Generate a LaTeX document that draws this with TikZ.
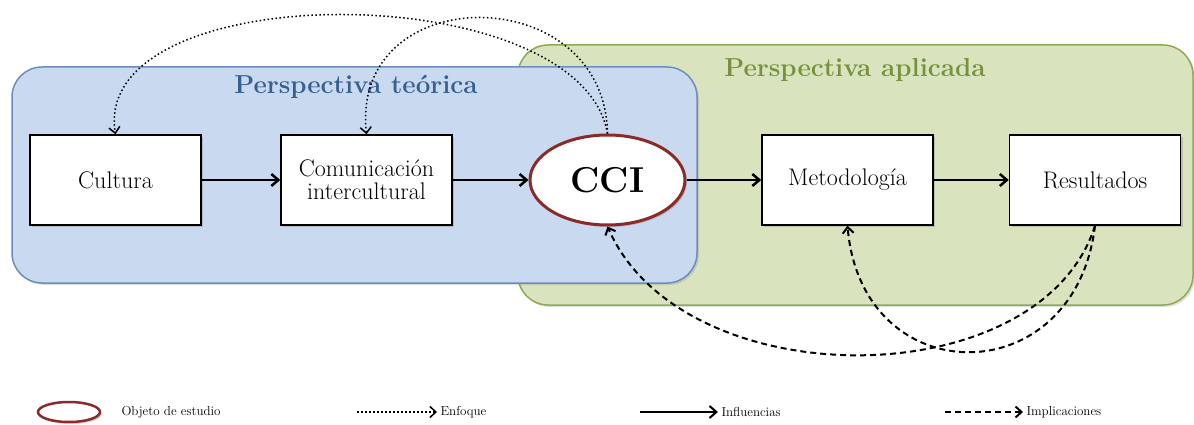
\documentclass[tikz,border=0pt]{standalone}
\usepackage{tikz}
\usetikzlibrary{shapes,arrows.meta,positioning,calc,shadows}

\definecolor{teofill}{RGB}{201,218,240}
\definecolor{teodraw}{RGB}{108,142,191}
\definecolor{teotext}{RGB}{55,96,146}
\definecolor{aplfill}{RGB}{217,228,190}
\definecolor{apldraw}{RGB}{140,172,82}
\definecolor{apltext}{RGB}{118,146,60}
\definecolor{objred}{RGB}{140,42,42}

\begin{document}
\begin{tikzpicture}[x=1pt, y=-1pt,
    box/.style={draw, line width=1.5pt, fill=white, minimum width=171pt, minimum height=90pt,
        inner sep=0pt, align=center, font=\fontsize{24}{25}\selectfont,
        drop shadow={shadow xshift=2pt, shadow yshift=-2pt, opacity=.35}},
    objeto/.style={ellipse, draw=objred, line width=3pt, fill=white,
        drop shadow={shadow xshift=2pt, shadow yshift=-2pt, opacity=.35}},
    influencia/.style={-{Straight Barb[length=7pt,width=12pt]}, line width=2.5pt},
    enfoque/.style={-{Straight Barb[length=6pt,width=11pt]}, line width=1.5pt, dash pattern=on 1.5pt off 2.5pt},
    implica/.style={-{Straight Barb[length=6pt,width=11pt]}, line width=2pt, dash pattern=on 6pt off 4pt},
    leyenda/.style={anchor=west, font=\fontsize{13}{15}\selectfont}]
    \useasboundingbox (0,0) rectangle (1194,425);

    % Perspective regions
    \draw[line width=1.5pt, draw=apldraw, fill=aplfill, rounded corners=30pt,
        drop shadow={shadow xshift=2pt, shadow yshift=-2pt, opacity=.25}] (518,45) rectangle (1193,305);
    \draw[line width=1.5pt, draw=teodraw, fill=teofill, rounded corners=30pt,
        drop shadow={shadow xshift=2pt, shadow yshift=-2pt, opacity=.25}] (12,67) rectangle (697,283);
    \node[text=teotext, font=\bfseries\fontsize{26}{28}\selectfont] (teorica) at (356,87) {Perspectiva teórica};
    \node[text=apltext, font=\bfseries\fontsize{26}{28}\selectfont] (aplicada) at (855,70) {Perspectiva aplicada};

    % Main chain
    \node[box] (cultura) at (115.5,180) {Cultura};
    \node[box] (comunicacion) at (366.5,180) {Comunicación\\[-2pt]intercultural};
    \node[objeto, minimum width=155pt, minimum height=90pt, font=\bfseries\fontsize{36}{38}\selectfont] (cci) at (607.5,180) {CCI};
    \node[box] (metodologia) at (847.5,180) {Metodología};
    \node[box] (resultados) at (1095,180) {Resultados};

    % Influences
    \draw[influencia] (cultura) -- (comunicacion);
    \draw[influencia] (comunicacion) -- (cci);
    \draw[influencia] (cci) -- (metodologia);
    \draw[influencia] (metodologia) -- (resultados);

    % Focus
    \draw[enfoque] (cci.north) .. controls (580,-25) and (90,-25) .. (cultura.north);
    \draw[enfoque] (cci.north) .. controls (605,-21) and (350,-21) .. (comunicacion.north);

    % Implications
    \draw[implica] (resultados.south) .. controls (1040,398) and (682,398) .. (cci.south);
    \draw[implica] (resultados.south) .. controls (1075,394) and (862,394) .. (metodologia.south);

    % Legend
    \node[objeto, minimum width=62pt, minimum height=20pt, line width=2.5pt] (lobjeto) at (69,412) {};
    \node[leyenda] (tobjeto) at (118,412) {Objeto de estudio};
    \coordinate (lenfoque) at (357,412);
    \node[leyenda] (tenfoque) at (437,412) {Enfoque};
    \draw[enfoque] (lenfoque) -- (tenfoque.west);
    \coordinate (linfluencia) at (640,412);
    \node[leyenda] (tinfluencia) at (718,412) {Influencias};
    \draw[influencia, line width=2pt] (linfluencia) -- (tinfluencia.west);
    \coordinate (limplica) at (945,412);
    \node[leyenda] (timplica) at (1023,412) {Implicaciones};
    \draw[implica] (limplica) -- (timplica.west);
\end{tikzpicture}
\end{document}
